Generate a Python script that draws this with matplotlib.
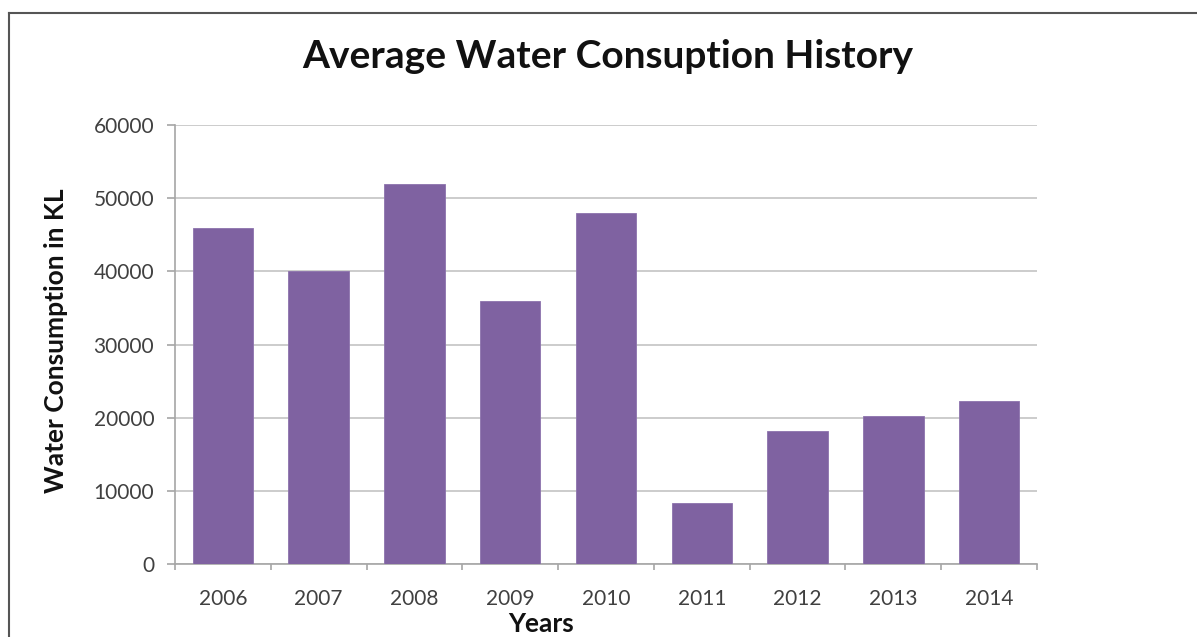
import matplotlib.pyplot as plt
from matplotlib.lines import Line2D

# Données du graphique
years = ["2006", "2007", "2008", "2009", "2010", "2011", "2012", "2013", "2014"]
consumption = [45900, 40000, 52000, 36000, 48000, 8400, 18200, 20200, 22300]
y_ticks = [0, 10000, 20000, 30000, 40000, 50000, 60000]

plt.rcParams['font.family'] = ['Lato', 'DejaVu Sans']

fig = plt.figure(figsize=(11.97, 6.37), dpi=100)
ax = fig.add_axes([175 / 1197, 1 - 564 / 637, 862 / 1197, 439 / 637])

x = list(range(len(years)))
ax.bar(x, consumption, width=0.63, color="#7F62A1", edgecolor="#8C72AD", linewidth=0.6, zorder=3)

ax.set_xlim(-0.5, len(years) - 0.5)
ax.set_ylim(0, 60000)
ax.set_yticks(y_ticks)
ax.set_yticklabels([str(v) for v in y_ticks])
ax.set_xticks(x)
ax.set_xticklabels(years)
ax.set_xticks([i - 0.5 for i in range(len(years) + 1)], minor=True)

ax.grid(axis="y", color="#C4C4C4", linewidth=1.2, zorder=0)
for side in ["top", "right"]:
    ax.spines[side].set_visible(False)
for side in ["left", "bottom"]:
    ax.spines[side].set_color("#A6A6A6")
    ax.spines[side].set_linewidth(1.2)

ax.tick_params(axis="y", length=6, width=1.2, color="#A6A6A6", pad=9, labelsize=15, labelcolor="#404040")
ax.tick_params(axis="x", which="major", length=0, pad=18, labelsize=15, labelcolor="#404040")
ax.tick_params(axis="x", which="minor", length=4, width=1.2, color="#A6A6A6")

# Titres
fig.text(608 / 1197, 1 - 57 / 637, "Average Water Consuption History", ha="center", va="center",
         fontsize=28, fontweight="bold", color="#111111")
fig.text(56 / 1197, 1 - 341 / 637, "Water Consumption in KL", ha="center", va="center",
         rotation=90, fontsize=19, fontweight="bold", color="#111111")
fig.text(541 / 1197, 1 - 624 / 637, "Years", ha="center", va="center",
         fontsize=19, fontweight="bold", color="#111111")

# Cadre extérieur (coupé à droite et en bas)
fig.add_artist(Line2D([9 / 1197, 1], [1 - 13 / 637, 1 - 13 / 637], color="#555555", linewidth=1.5))
fig.add_artist(Line2D([9 / 1197, 9 / 1197], [0, 1 - 13 / 637], color="#555555", linewidth=1.5))

fig.savefig("out.png", dpi=100)
